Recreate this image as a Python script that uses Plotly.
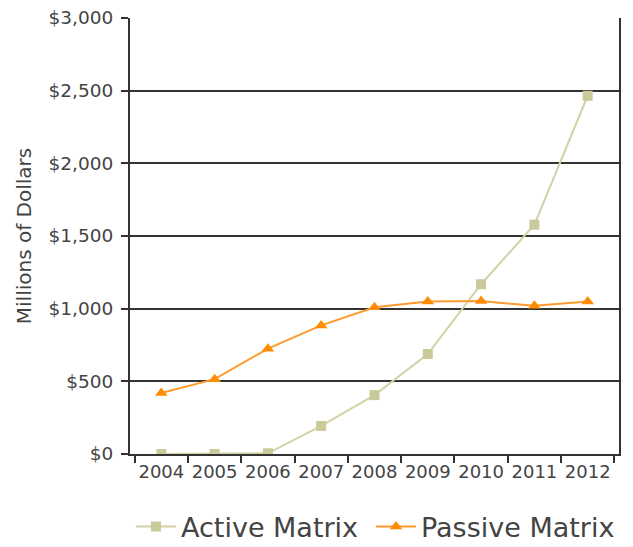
import plotly.graph_objects as go

years = ["2004", "2005", "2006", "2007", "2008", "2009", "2010", "2011", "2012"]
active_matrix = [0, 0, 5, 193, 405, 688, 1168, 1578, 2465]
passive_matrix = [420, 515, 725, 885, 1010, 1050, 1052, 1020, 1050]
y_ticks = [0, 500, 1000, 1500, 2000, 2500, 3000]
y_labels = ["$0", "$500", "$1,000", "$1,500", "$2,000", "$2,500", "$3,000"]

FONT = "DejaVu Sans"
TEXT = "#444444"

fig = go.Figure()
fig.add_trace(go.Scatter(
    x=years, y=active_matrix, name="Active Matrix",
    mode="lines+markers",
    line=dict(color="#d2d2a6", width=2),
    marker=dict(symbol="square", size=10, color="#c9c99a"),
    legend="legend",
))
fig.add_trace(go.Scatter(
    x=years, y=passive_matrix, name="Passive Matrix",
    mode="lines+markers",
    line=dict(color="#ff9a2e", width=2),
    marker=dict(symbol="triangle-up", size=11, color="#ff8c00"),
    legend="legend2",
))

legend_style = dict(
    orientation="h", xanchor="left", y=-0.1674, yanchor="middle",
    font=dict(size=27, color=TEXT, family=FONT),
    itemwidth=40, bgcolor="rgba(0,0,0,0)",
)

fig.update_layout(
    width=633, height=547,
    margin=dict(l=130, r=14, t=18, b=93, autoexpand=False),
    paper_bgcolor="white", plot_bgcolor="white",
    font=dict(family=FONT, color=TEXT),
    showlegend=True,
    legend=dict(x=0.002, **legend_style),
    legend2=dict(x=0.4928, **legend_style),
)
fig.update_xaxes(
    type="category", tickson="boundaries", ticks="outside", ticklen=7,
    tickcolor="#333333", tickwidth=1.5, tickangle=0,
    showline=True, linecolor="#333333", linewidth=2,
    showgrid=False, zeroline=False,
    tickfont=dict(size=18, color=TEXT, family=FONT),
)
fig.update_yaxes(
    range=[0, 3000], tickvals=y_ticks, ticktext=y_labels,
    ticks="outside", ticklen=7, tickcolor="#333333", tickwidth=1.5,
    ticklabelstandoff=4,
    showline=True, linecolor="#333333", linewidth=2, mirror=True,
    showgrid=True, gridcolor="#333333", gridwidth=1.5, zeroline=False,
    tickfont=dict(size=18.5, color=TEXT, family=FONT),
    title=dict(text="Millions of Dollars", font=dict(size=20, color=TEXT, family=FONT), standoff=12),
)

fig.write_html("out.html")
